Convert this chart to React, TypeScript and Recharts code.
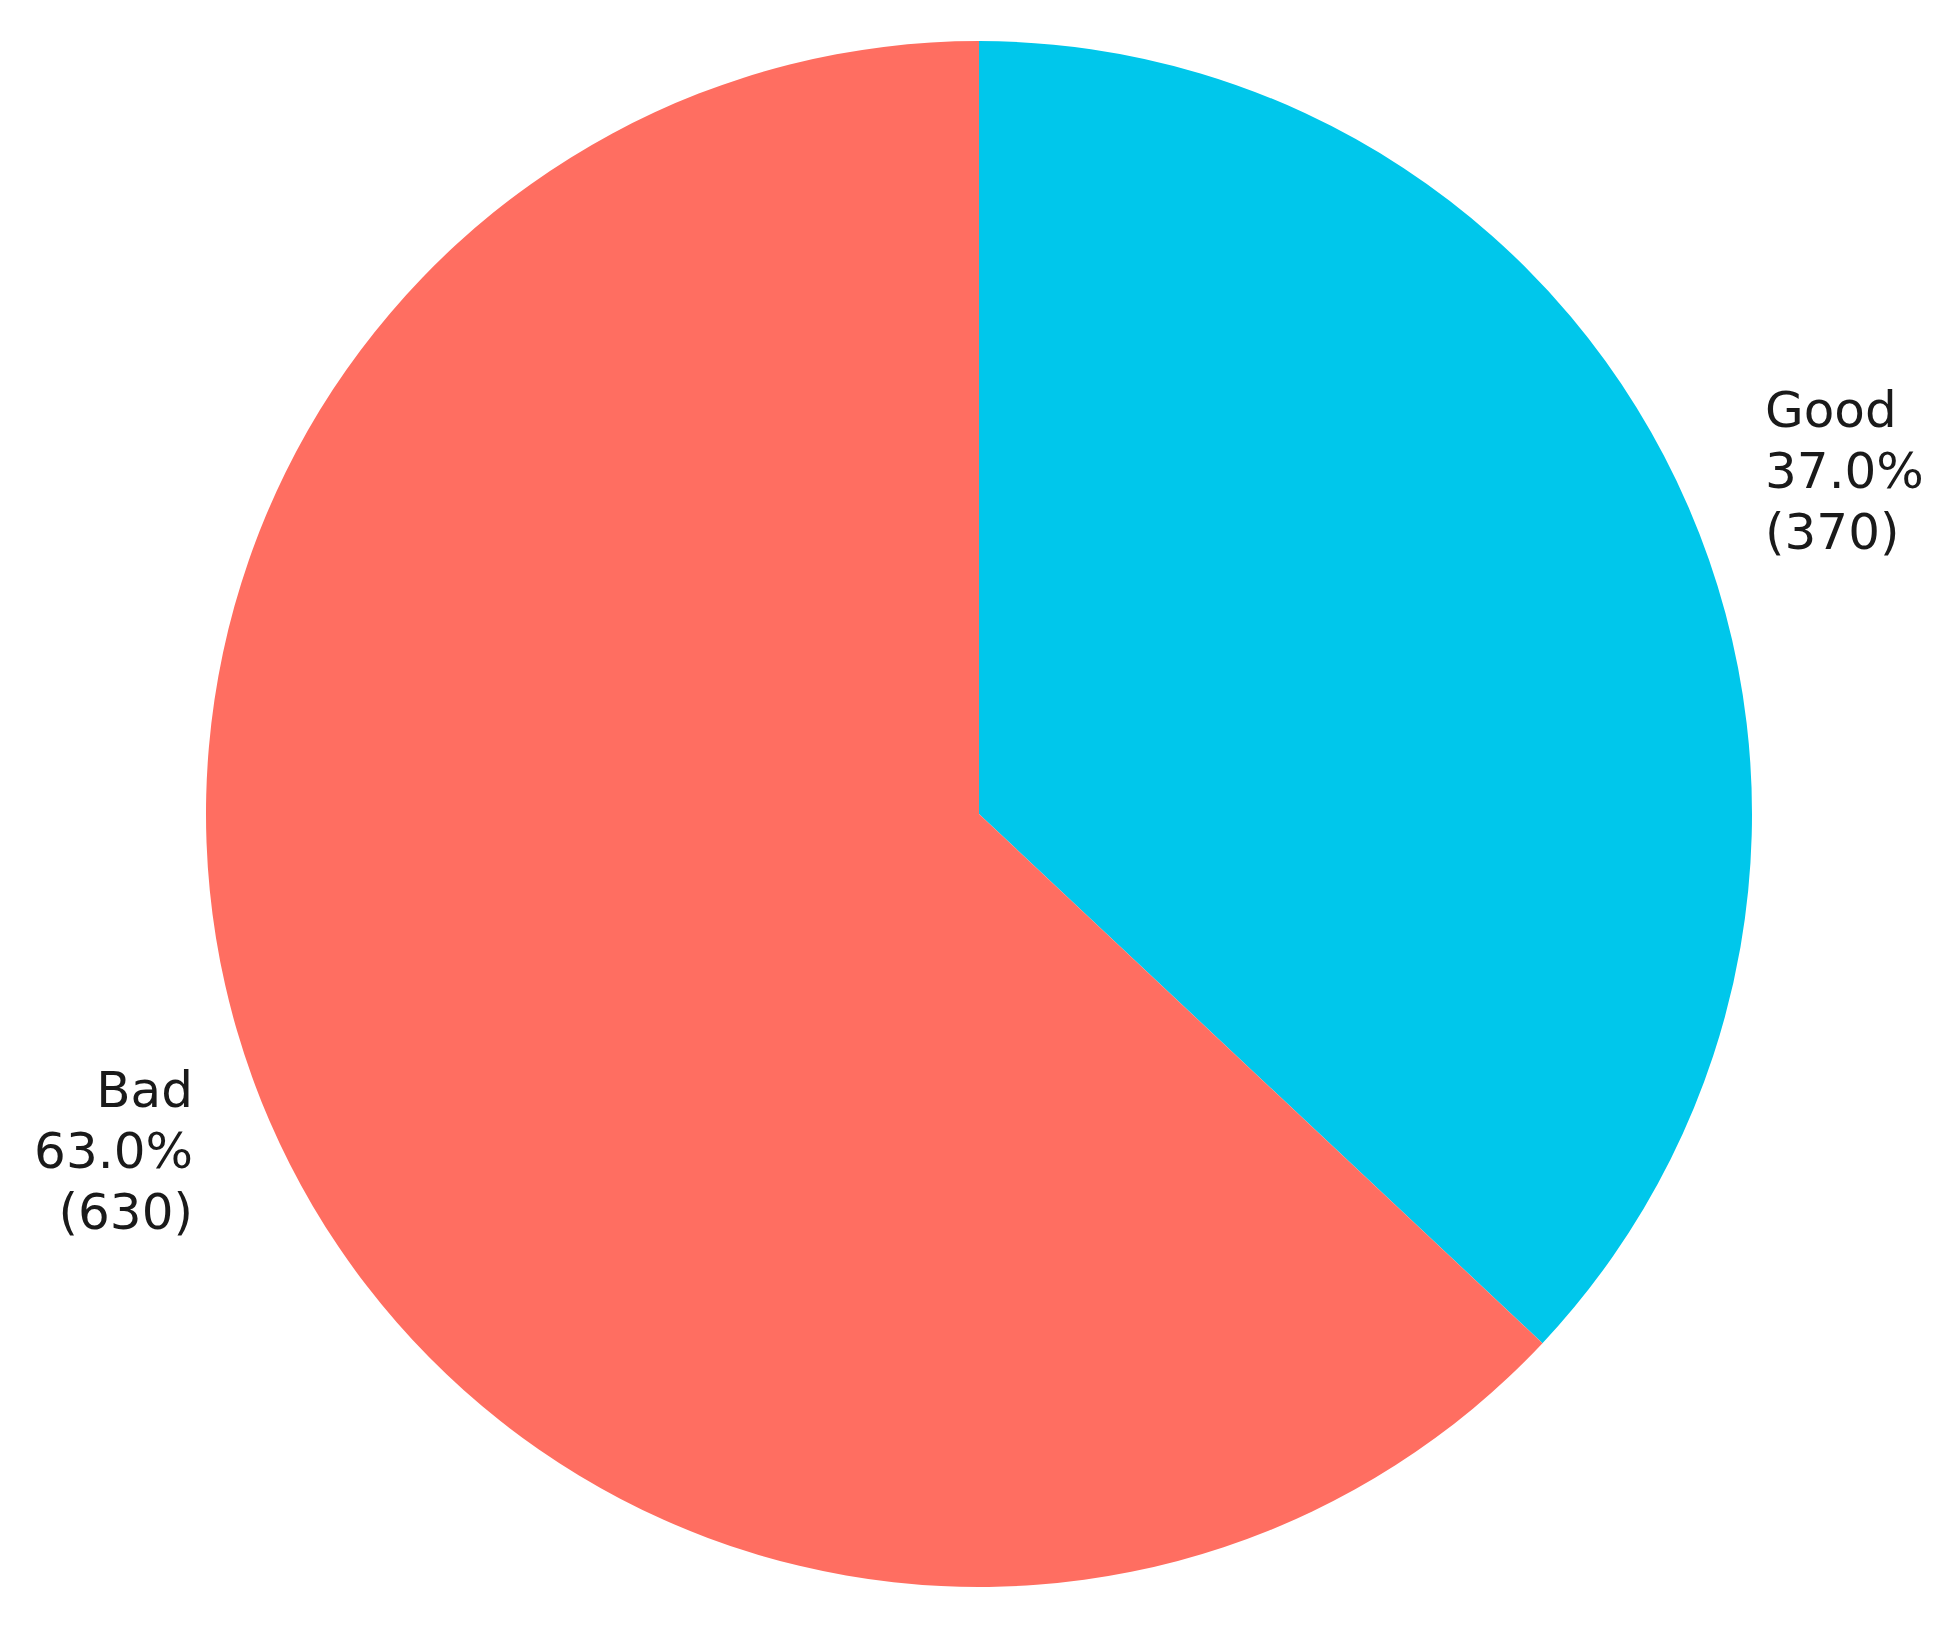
import { PieChart, Pie, Cell } from 'recharts'

const categories = ['Good', 'Bad']
const counts = [370, 630]
const COLORS = ['#00C7EB', '#FF6E61']

const data = categories.map((name, i) => ({ name, value: counts[i] }))
const total = counts.reduce((a, b) => a + b, 0)

const RADIAN = Math.PI / 180

const renderLabel = (props: any) => {
  const { cx, cy, midAngle, outerRadius, name, value } = props
  const r = outerRadius * 1.108
  const x = cx + r * Math.cos(-midAngle * RADIAN)
  const y = cy + r * Math.sin(-midAngle * RADIAN) - 3
  const anchor = x > cx ? 'start' : 'end'
  const pct = ((value / total) * 100).toFixed(1)
  const lines = [name, `${pct}%`, `(${value})`]
  return (
    <text
      x={x}
      y={y}
      textAnchor={anchor}
      fill="#1a1a1a"
      fontSize={50}
      fontFamily="DejaVu Sans"
    >
      {lines.map((t, i) => (
        <tspan key={i} x={x} y={y + (i - 1) * 61} dominantBaseline="central">
          {t}
        </tspan>
      ))}
    </text>
  )
}

export default function App() {
  return (
    <div style={{ position: 'absolute', left: 0, top: 0, width: 1958, height: 1627, background: '#fff' }}>
      <PieChart width={1958} height={1627} margin={{ top: 0, right: 0, bottom: 0, left: 0 }}>
        <Pie
          data={data}
          dataKey="value"
          nameKey="name"
          cx={979}
          cy={814}
          outerRadius={773}
          startAngle={90}
          endAngle={-270}
          stroke="none"
          labelLine={false}
          label={renderLabel}
          isAnimationActive={false}
        >
          {data.map((_, i) => (
            <Cell key={`cell-${i}`} fill={COLORS[i]} />
          ))}
        </Pie>
      </PieChart>
    </div>
  )
}
